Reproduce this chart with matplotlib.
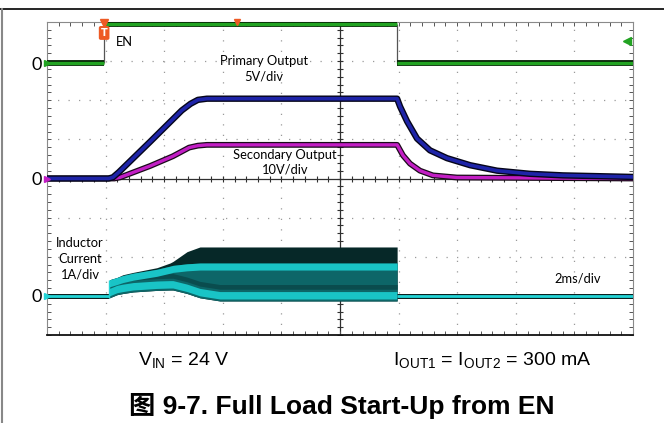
import numpy as np
import matplotlib.pyplot as plt
from matplotlib.lines import Line2D
from matplotlib.ticker import MultipleLocator

plt.rcParams['mathtext.fontset'] = 'custom'
plt.rcParams['mathtext.rm'] = 'Liberation Sans'

# scope data, time in ms (2 ms/div, 10 div)
en_edges = [0, 1.95, 11.95, 20]          # EN switching times
en_levels = [0, 1, 0]                      # EN level in div
prim_t = [0, 2.1, 2.25, 2.45, 3.52, 4.6, 4.9, 5.15, 5.46, 11.95, 12.05, 12.29, 12.63, 13.07, 13.65, 14.44,
          15.36, 16.48, 17.61, 20]
prim_v = [0, 0, 0.15, 0.8, 4.7, 8.7, 9.55, 10.05, 10.2, 10.2, 9.2, 7.3, 5.1, 3.6, 2.6, 1.7, 1.0, 0.6, 0.4, 0.2]
sec_t = [0, 2.3, 2.5, 3.52, 4.3, 4.85, 5.15, 5.46, 11.95, 12.15, 12.39, 12.73, 13.17, 13.99, 20]
sec_v = [0, 0, 0.3, 3.2, 5.7, 7.9, 8.4, 8.6, 8.6, 5.9, 3.8, 2.0, 0.8, 0.25, 0]
il_band_t = [2.13, 2.39, 2.59, 2.94, 3.75, 4.2, 4.3, 4.78, 5.22, 5.9, 11.95]
il_top = [0.41, 0.47, 0.54, 0.60, 0.72, 0.84, 0.88, 1.13, 1.25, 1.25, 1.25]
il_bot = [-0.05, 0.03, 0.06, 0.10, 0.14, 0.15, 0.15, 0.06, -0.05, -0.13, -0.13]
il_mid = [0.41, 0.47, 0.52, 0.58, 0.68, 0.76, 0.78, 0.82, 0.84, 0.84, 0.84]
il_off_t1 = [0, 2.13]
il_off_t2 = [11.95, 20]

# channel offsets (div) and scales
en_zero, out_zero, il_zero = 6.95, 4.0, 1.0
prim_scale, sec_scale, il_scale = 5.0, 10.0, 1.0

fig = plt.figure(figsize=(6.64, 4.23), dpi=100)
ax = fig.add_axes([47/664, 88/423, 586/664, 313/423])
ax.set_xlim(0, 20)
ax.set_ylim(0, 8)

# grid
for k in range(1, 10):
    if k != 5:
        ax.axvline(2*k, color='#9a9a9a', lw=0.9, ls=(0, (1, 7.4)), zorder=1)
for k in range(1, 8):
    if k != 4:
        ax.axhline(k, color='#9a9a9a', lw=0.9, ls=(0, (1, 7.4)), zorder=1)
ax.axvline(10, color='#303030', lw=0.9, zorder=1)
ax.axhline(4, color='#303030', lw=0.9, zorder=1)
ax.plot(np.full(41, 10), np.arange(0, 8.01, 0.2), ls='none', marker='_', ms=5, color='#303030', mew=0.8, zorder=1)
ax.plot(np.arange(0, 20.01, 0.4), np.full(51, 4), ls='none', marker='|', ms=5, color='#303030', mew=0.8, zorder=1)

ax.xaxis.set_minor_locator(MultipleLocator(0.4))
ax.yaxis.set_minor_locator(MultipleLocator(0.2))
ax.tick_params(which='minor', direction='in', length=3, width=0.7, color='#555555',
               top=True, right=True, bottom=True, left=True)
ax.set_xticks([])
ax.set_yticks([il_zero, out_zero, en_zero], ['0', '0', '0'])
ax.tick_params(axis='y', which='major', length=0, pad=4, labelsize=13)
for lab in ax.get_yticklabels():
    lab.set_family('Lato')
for s in ['left', 'top', 'right']:
    ax.spines[s].set_color('#8a8a8a')
ax.spines['bottom'].set_color('#111111')
ax.spines['bottom'].set_linewidth(1.3)

# inductor current band
ib = np.array(il_band_t)
top = il_zero + np.array(il_top) / il_scale
bot = il_zero + np.array(il_bot) / il_scale
mid = il_zero + np.array(il_mid) / il_scale
ax.fill_between(ib, bot, top, color='#062828', lw=0, zorder=2)
ax.fill_between(ib, bot, mid, color='#0d6668', lw=0, zorder=2)
ax.fill_between(ib, bot + 0.3, bot + 0.42, color='#0a4c4e', lw=0, zorder=2)
ax.fill_between(ib, mid - 0.18, mid, color='#19c4c6', lw=0, zorder=2)
ax.fill_between(ib, bot + 0.05, bot + 0.24, color='#19c4c6', lw=0, zorder=2)
for tt in (il_off_t1, il_off_t2):
    ax.plot(tt, [il_zero, il_zero], color='#0a2020', lw=3.6, solid_capstyle='butt', zorder=3)
    ax.plot(tt, [il_zero, il_zero], color='#22d4d6', lw=2.0, solid_capstyle='butt', zorder=3)
ax.vlines(il_band_t[0], il_zero - 0.05, top[0], color='#22d4d6', lw=1, zorder=3)

# outputs
pv = out_zero + np.array(prim_v) / prim_scale
sv = out_zero + np.array(sec_v) / sec_scale
ax.plot(sec_t, sv, color='#1a0a1a', lw=4.2, zorder=4, solid_joinstyle='round')
ax.plot(sec_t, sv, color='#c21ec4', lw=2.4, zorder=4, solid_joinstyle='round')
ax.plot(prim_t, pv, color='#05051a', lw=4.6, zorder=5, solid_joinstyle='round')
ax.plot(prim_t, pv, color='#1e24a8', lw=2.6, zorder=5, solid_joinstyle='round')

# EN
for i in range(len(en_levels)):
    y = en_zero + en_levels[i]
    ax.plot(en_edges[i:i+2], [y, y], color='#062006', lw=4.2, solid_capstyle='butt', zorder=4)
    ax.plot(en_edges[i:i+2], [y, y], color='#22a322', lw=2.4, solid_capstyle='butt', zorder=4)
ax.vlines(en_edges[1:3], en_zero, en_zero + 1, color='#555555', lw=0.9, zorder=3)

# markers
ax.plot(0, en_zero, marker='>', ms=4, color='#22a322', clip_on=False, zorder=6)
ax.plot(0, out_zero, marker='>', ms=4, color='#c21ec4', clip_on=False, zorder=6)
ax.plot(0, il_zero, marker='>', ms=4, color='#22d4d6', clip_on=False, zorder=6)
ax.plot(en_edges[1], 7.97, marker='v', ms=6, color='#ee5a24', clip_on=False, zorder=7)
ax.text(en_edges[1], 7.72, 'T', color='white', fontsize=7, fontweight='bold', ha='center', va='center',
        bbox=dict(boxstyle='round,pad=0.2', fc='#ee5a24', ec='none'), zorder=7)
ax.plot(6.48, 8.0, marker='v', ms=4, color='#ee5a24', clip_on=False, zorder=7)
ax.plot(19.8, 7.51, marker='<', ms=6, color='#22a322', zorder=7)

# scope labels
lf = 'Lato'
fs = 9.3
ax.text(2.35, 7.5, 'EN', fontsize=fs, family=lf, ha='left', va='center')
ax.text(7.4, 6.8, 'Primary Output\n5V/div', fontsize=fs, family=lf, ha='center', va='center', linespacing=1.3)
ax.text(8.12, 4.42, 'Secondary Output\n10V/div', fontsize=fs, family=lf, ha='center', va='center', linespacing=1.3)
ax.text(1.13, 1.95, 'Inductor\nCurrent\n1A/div', fontsize=fs, family=lf, ha='center', va='center', linespacing=1.4)
ax.text(18.1, 1.45, '2ms/div', fontsize=fs, family=lf, ha='center', va='center')

# page text
fig.text(184/664, 1 - 361/423, r'V$_{\mathrm{IN}}$ = 24 V', fontsize=14, family='Liberation Sans',
         ha='center', va='center')
fig.text(492/664, 1 - 361/423, r'I$_{\mathrm{OUT1}}$ = I$_{\mathrm{OUT2}}$ = 300 mA', fontsize=14,
         family='Liberation Sans', ha='center', va='center')
fig.text(342/664, 1 - 406/423, '图 9-7. Full Load Start-Up from EN', fontsize=19, fontweight='bold',
         family=['Liberation Sans', 'Noto Sans CJK SC'], ha='center', va='center')

fig.add_artist(Line2D([0, 1], [1 - 9/423, 1 - 9/423], color='black', lw=1.2, transform=fig.transFigure))
fig.add_artist(Line2D([1.5/664, 1.5/664], [0, 1 - 9/423], color='#888888', lw=1.5, transform=fig.transFigure))

fig.savefig('out.png', dpi=100)
